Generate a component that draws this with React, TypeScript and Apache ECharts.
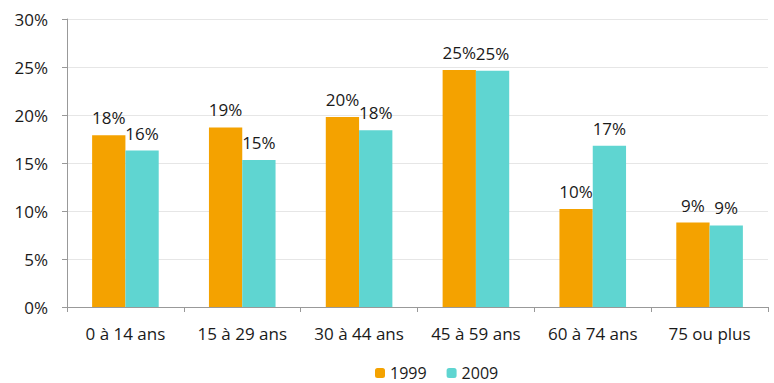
import React, { useEffect, useRef } from "react";
import * as echarts from "echarts";

const categories = ["0 à 14 ans", "15 à 29 ans", "30 à 44 ans", "45 à 59 ans", "60 à 74 ans", "75 ou plus"];
const values1999 = [17.9, 18.7, 19.8, 24.7, 10.2, 8.8];
const values2009 = [16.3, 15.3, 18.4, 24.6, 16.8, 8.5];
const yTicks = [0, 5, 10, 15, 20, 25, 30];

const FONT = "'Open Sans', sans-serif";

export default function App() {
  const ref = useRef<HTMLDivElement>(null);
  useEffect(() => {
    if (!ref.current) return;
    const chart = echarts.init(ref.current, undefined, { renderer: "svg" });
    const label = {
      show: true,
      position: "top",
      distance: 9,
      color: "#1a1a1a",
      fontFamily: FONT,
      fontSize: 17,
      formatter: (p: any) => Math.round(p.value) + "%",
    };
    chart.setOption({
      animation: false,
      backgroundColor: "#fff",
      textStyle: { fontFamily: FONT },
      grid: { left: 67, right: 6, top: 19, bottom: 76, containLabel: false },
      legend: {
        top: 360,
        left: 370,
        itemWidth: 10,
        itemHeight: 10,
        itemGap: 20,
        textStyle: { fontFamily: FONT, fontSize: 16, color: "#1a1a1a" },
        data: ["1999", "2009"],
      },
      xAxis: {
        type: "category",
        data: categories,
        axisLine: { lineStyle: { color: "#999" } },
        axisTick: { show: true, lineStyle: { color: "#999" } },
        axisLabel: { color: "#1a1a1a", fontFamily: FONT, fontSize: 17, margin: 18 },
      },
      yAxis: {
        type: "value",
        min: yTicks[0],
        max: yTicks[yTicks.length - 1],
        interval: 5,
        axisLine: { show: true, lineStyle: { color: "#999" } },
        axisTick: { show: true, lineStyle: { color: "#999" }, length: 5 },
        splitLine: { lineStyle: { color: "#e6e6e6" } },
        axisLabel: { color: "#1a1a1a", fontFamily: FONT, fontSize: 17, margin: 19, formatter: "{value}%" },
      },
      series: [
        {
          name: "1999",
          type: "bar",
          data: values1999,
          itemStyle: { color: "#F4A200" },
          barGap: "0%",
          barCategoryGap: "43%",
          label,
        },
        {
          name: "2009",
          type: "bar",
          data: values2009,
          itemStyle: { color: "#5FD5D1" },
          label,
        },
      ],
    });
    return () => chart.dispose();
  }, []);
  return <div ref={ref} style={{ width: 774, height: 383, position: "absolute", left: 0, top: 0 }} />;
}
